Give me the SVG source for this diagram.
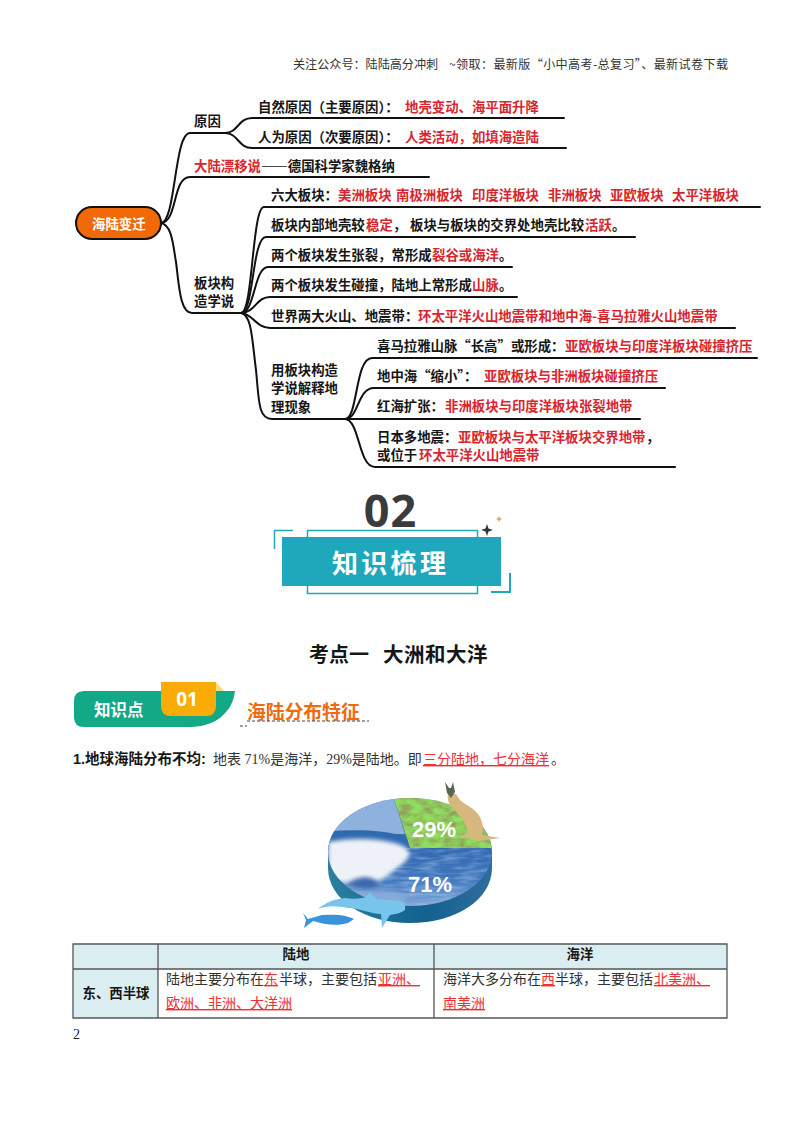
<svg xmlns="http://www.w3.org/2000/svg" width="800" height="1132" viewBox="0 0 800 1132" lang="zh">
<style>
text{font-family:"Noto Sans CJK SC","Noto Sans",sans-serif;fill:#161616}
.b{font-size:13.4px;font-weight:700}
.r{fill:#d8262f}
.n{font-size:14px;font-weight:400;fill:#333;font-family:"Liberation Serif","Noto Sans CJK SC",sans-serif}
.u{fill:#ee2f35;text-decoration:underline}
.c path{fill:none;stroke:#111;stroke-width:2;stroke-linecap:round}
.t{stroke:#1fa8bc;fill:none}
.g{stroke:#555;stroke-width:1.3}
</style>
<defs>
<linearGradient id="sea" x1="0" y1="0" x2="0" y2="1"><stop offset="0" stop-color="#7ba3d6"/><stop offset=".4" stop-color="#2f66b0"/><stop offset=".75" stop-color="#3f77bd"/><stop offset="1" stop-color="#7fa7d8"/></linearGradient>
<linearGradient id="side" x1="0" y1="0" x2="1" y2="0"><stop offset="0" stop-color="#2b7fa0"/><stop offset=".6" stop-color="#13618f"/><stop offset="1" stop-color="#2f6d9e"/></linearGradient>
<filter id="soft" x="-20%" y="-20%" width="140%" height="140%"><feGaussianBlur stdDeviation="2"/></filter>
<filter id="foliage" x="0" y="0" width="100%" height="100%"><feTurbulence type="fractalNoise" baseFrequency=".09 .18" numOctaves="3" seed="4"/><feColorMatrix values="0 0 0 0 .2 1.5 0 0 0 -.05 0 0 0 0 .16 0 0 0 0 1"/><feComposite in2="SourceAlpha" operator="in" result="n"/><feFlood flood-color="#a2b23c" flood-opacity=".45"/><feComposite in2="n" operator="over"/><feComposite in2="SourceAlpha" operator="in"/></filter>
<filter id="ripple" x="0" y="0" width="100%" height="100%"><feTurbulence type="fractalNoise" baseFrequency=".05 .3" numOctaves="2" seed="8"/><feColorMatrix values="0 0 0 0 .75 0 0 0 0 .85 0 0 0 0 1 1.4 0 0 0 -.55"/><feComposite in2="SourceAlpha" operator="in"/></filter>
<clipPath id="top"><ellipse cx="410" cy="852" rx="82" ry="54"/></clipPath>
</defs>

<text x="293" y="69" font-size="12.100" style="fill:#333">关注公众号：陆陆高分冲刺</text>
<text x="449" y="69" font-size="12.100" textLength="279" style="fill:#333">~领取：最新版“小中高考-总复习”、最新试卷下载</text>

<g id="connectors" class="c">
<path d="M161 223C176 222 174 133 190 133H225"/>
<path d="M161 223C178 222 172 177 190 177H429"/>
<path d="M161 223C172 225 173 245 176 262C179 285 180 313 192 313H241"/>
<path d="M225 133C238 133 238 118 252 118H564"/>
<path d="M225 133C238 133 238 148 252 148H566"/>
<path d="M241 313C253 313 252 207 264 207H760"/>
<path d="M241 313C254 313 252 237 266 237H635"/>
<path d="M241 313C255 313 254 267 268 267H512"/>
<path d="M241 313C256 312 256 297 270 297H517"/>
<path d="M241 313C252 313 256 328 270 328H735"/>
<path d="M241 313C252 315 252 340 256 370C259 400 258 419 272 419H345"/>
<path d="M345 419C358 419 355 358 372 358H757"/>
<path d="M345 419C359 419 357 388 374 388H665"/>
<path d="M345 419H640"/>
<path d="M345 419C360 420 358 467 375 467H675"/>
</g>

<g id="root"><rect x="76" y="207" width="85" height="32" rx="16" fill="#f26a06" stroke="#111" stroke-width="2"/><text x="92" y="229" font-size="13.400" font-weight="700" style="fill:#fff">海陆变迁</text></g>
<g id="n-cause"><text class="b" x="194" y="126">原因</text></g>
<g id="n-natural"><text class="b" x="258" y="112">自然原因（主要原因）：<tspan class="r" x="405">地壳变动、海平面升降</tspan></text></g>
<g id="n-human"><text class="b" x="258" y="142">人为原因（次要原因）：<tspan class="r" x="405">人类活动，如填海造陆</tspan></text></g>
<g id="n-drift"><text class="b" x="194" y="171"><tspan class="r">大陆漂移说</tspan><tspan x="261">——德国科学家魏格纳</tspan></text></g>
<g id="n-plate"><text class="b" x="194" y="288">板块构</text><text class="b" x="194" y="306">造学说</text></g>
<g id="n-six"><text class="b" x="271" y="200">六大板块：<tspan class="r" x="338">美洲板块</tspan><tspan class="r" x="396">南极洲板块</tspan><tspan class="r" x="472">印度洋板块</tspan><tspan class="r" x="548">非洲板块</tspan><tspan class="r" x="610">亚欧板块</tspan><tspan class="r" x="672">太平洋板块</tspan></text></g>
<g id="n-inner"><text class="b" x="271" y="230">板块内部地壳较<tspan class="r" x="366">稳定</tspan><tspan x="393">，</tspan><tspan x="410">板块与板块的交界处地壳比较</tspan><tspan class="r" x="585">活跃</tspan><tspan x="612">。</tspan></text></g>
<g id="n-split"><text class="b" x="271" y="260">两个板块发生张裂，常形成<tspan class="r" x="432">裂谷或海洋</tspan><tspan x="499">。</tspan></text></g>
<g id="n-collide"><text class="b" x="271" y="290">两个板块发生碰撞，陆地上常形成<tspan class="r" x="472">山脉</tspan><tspan x="499">。</tspan></text></g>
<g id="n-belts"><text class="b" x="271" y="321">世界两大火山、地震带：<tspan class="r" x="418">环太平洋火山地震带和地中海-喜马拉雅火山地震带</tspan></text></g>
<g id="n-explain"><text class="b" x="271" y="375">用板块构造</text><text class="b" x="271" y="393">学说解释地</text><text class="b" x="271" y="412">理现象</text></g>
<g id="n-himalaya"><text class="b" x="377" y="351">喜马拉雅山脉“长高”或形成：<tspan class="r" x="565">亚欧板块与印度洋板块碰撞挤压</tspan></text></g>
<g id="n-med"><text class="b" x="377" y="381">地中海“缩小”：<tspan class="r" x="484">亚欧板块与非洲板块碰撞挤压</tspan></text></g>
<g id="n-redsea"><text class="b" x="377" y="411">红海扩张：<tspan class="r" x="445">非洲板块与印度洋板块张裂地带</tspan></text></g>
<g id="n-japan"><text class="b" x="377" y="442">日本多地震：<tspan class="r" x="458">亚欧板块与太平洋板块交界地带</tspan><tspan x="646">，</tspan></text><text class="b" x="377" y="460">或位于<tspan class="r" x="419">环太平洋火山地震带</tspan></text></g>

<g id="banner">
<text x="390.500" y="527" text-anchor="middle" font-size="45" font-weight="700" letter-spacing="1" style="font-family:'Open Sans',sans-serif;fill:#3b3b3d">02</text>
<rect class="t" x="307.500" y="530.500" width="170" height="63" stroke-width="1.500"/>
<rect x="282" y="537" width="219" height="49" fill="#1fa8bc"/>
<path class="t" stroke-width="1.500" d="M274.500 549V530.500H293"/>
<path class="t" stroke-width="2" d="M510 573V592H491"/>
<path d="M487 524L488.500 528.500 493 530 488.500 531.500 487 536 485.500 531.500 481 530 485.500 528.500Z" fill="#33343a"/>
<path d="M499 516L500 518 502 519 500 520 499 522 498 520 496 519 498 518Z" fill="#e3a550"/>
<text x="332" y="573" font-size="26" font-weight="700" letter-spacing="3.300" style="fill:#fff">知识梳理</text>
</g>

<text x="309" y="662" font-size="20" font-weight="700">考点一</text>
<text x="383" y="662" font-size="20.500" font-weight="700" letter-spacing=".5">大洲和大洋</text>

<g id="badge">
<path d="M84 691H235C233 712 215 727 190 727H84Q74 727 74 717V701Q74 691 84 691Z" fill="#13a886"/>
<path d="M216 682L224 691H216Z" fill="#f6dc7a"/>
<path d="M161 682H216V706Q216 716 206 716H171Q161 716 161 706Z" fill="#fbab05"/>
<text x="94" y="716" font-size="16.500" font-weight="700" style="fill:#fff">知识点</text>
<text x="187" y="706" text-anchor="middle" font-size="19" font-weight="700" style="font-family:'Open Sans',sans-serif;fill:#fff">01</text>
<text x="247" y="719" font-size="18.800" font-weight="700" style="fill:#ee6b12">海陆分布特征</text>
<path d="M247 721H369M240 726H247" stroke="#444" stroke-width="1.200" stroke-dasharray="3 2" fill="none"/>
</g>

<text x="73" y="764" font-size="14.500" font-weight="700" style="font-family:'Liberation Sans','Noto Sans CJK SC',sans-serif">1.地球海陆分布不均:</text>
<text class="n" x="213" y="764">地表 71%是海洋，29%是陆地。即<tspan class="u" x="423">三分陆地，七分海洋</tspan><tspan x="551">。</tspan></text>

<g id="pie">
<path d="M328 852V868C328 900 365 923 410 923C455 923 492 900 492 868V852Z" fill="url(#side)"/>
<ellipse cx="410" cy="852" rx="82" ry="54" fill="url(#sea)"/>
<g clip-path="url(#top)">
<path d="M393 797H320V834H405Z" fill="#8fb1dd"/>
<rect x="328" y="848" width="164" height="60" fill="#fff" filter="url(#ripple)" opacity=".55"/>
<path d="M325 832C350 829 385 830 403 836L410 848 325 850Z" fill="#2f6aae"/>
<path d="M328 842C350 838 375 838 395 843C412 848 414 856 400 866C388 874 380 888 350 884L328 880Z" fill="#eef2f8" filter="url(#soft)"/>
<path d="M346 884C362 874 372 876 380 884C370 891 356 890 346 884Z" fill="#3b68ad" filter="url(#soft)"/>
<path d="M328 889C360 892 385 888 405 896V912H328Z" fill="#86abd8" filter="url(#soft)"/>
<path d="M410 848L393 795H490L495 848Z" fill="#4f8f50" filter="url(#foliage)"/>
</g>
<g id="roo" fill="#d6b77e">
<path d="M448 794C447 800 449 805 453 808C459 815 465 822 467 828C468 832 466 835 461 836L459 838 472 838 478 841 500 838 482 835C485 826 481 815 473 809C466 804 461 803 456 794Z"/>
<path d="M445 782L449 788 451 788 453 782 455 792 451 798 447 793Z" fill="#56684f"/>
</g>
<text x="412" y="837" font-size="22" font-weight="700" style="font-family:'Liberation Sans',sans-serif;fill:#fff">29%</text>
<text x="408" y="892" font-size="22" font-weight="700" style="font-family:'Liberation Sans',sans-serif;fill:#fff">71%</text>
<g id="whale">
<path d="M303 913L308 919 322 915C335 914 347 915 354 919L348 923C338 926 325 925 313 921L304 928 306 920Z" fill="#3794dc"/>
<path d="M318 909C326 902 335 899 345 898C352 899 360 899 366 897L370 892 376 899C386 900 398 899 405 903L405 910C400 914 394 914 390 915L385 923 382 928 381 914C370 914 360 908 348 908C338 906 328 905 318 909Z" fill="#77c5ec"/>
</g>
</g>

<g id="table">
<rect x="73" y="944" width="654" height="25" fill="#daedf1"/>
<rect x="73" y="969" width="85" height="49" fill="#daedf1"/>
<path class="g" fill="none" d="M73 944H727V1018H73ZM73 969H727M158 944V1018M434 944V1018"/>
<text x="296" y="959" text-anchor="middle" font-size="13.400" font-weight="700">陆地</text>
<text x="580" y="959" text-anchor="middle" font-size="13.400" font-weight="700">海洋</text>
<text x="116" y="998" text-anchor="middle" font-size="13.400" font-weight="700">东、西半球</text>
<text class="n" x="166" y="984">陆地主要分布在<tspan class="u" x="264">东</tspan><tspan x="279">半球，主要包括</tspan><tspan class="u" x="378">亚洲、</tspan></text>
<text class="n u" x="166" y="1008">欧洲、非洲、大洋洲</text>
<text class="n" x="443" y="984">海洋大多分布在<tspan class="u" x="541">西</tspan><tspan x="555">半球，主要包括</tspan><tspan class="u" x="654">北美洲、</tspan></text>
<text class="n u" x="443" y="1008">南美洲</text>
</g>
<text x="73" y="1039" font-size="14" style="font-family:'Liberation Serif',serif;fill:#222">2</text>
</svg>
